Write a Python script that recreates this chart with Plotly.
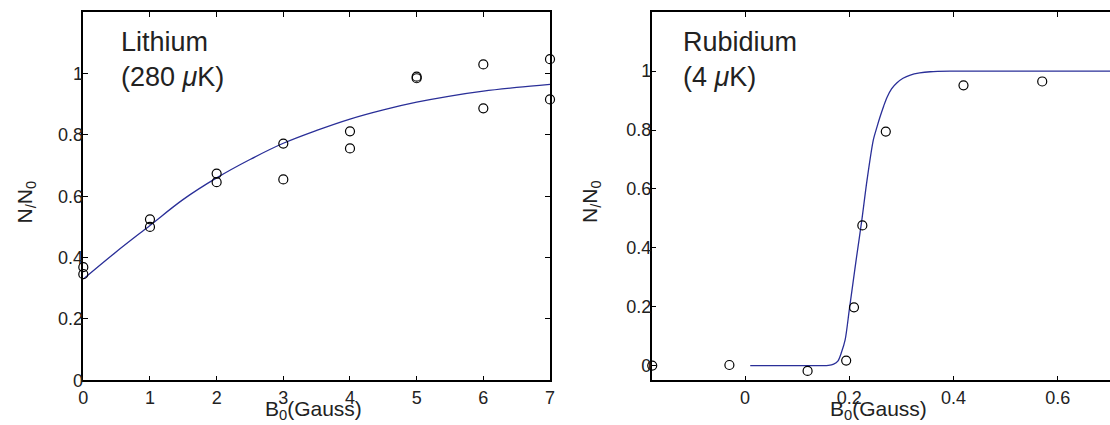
import plotly.graph_objects as go

# ---- Lithium panel data ----
li_b = [0, 0, 1, 1, 2, 2, 3, 3, 4, 4, 5, 5, 6, 6, 7, 7]
li_n = [0.369, 0.346, 0.525, 0.500, 0.674, 0.646, 0.772, 0.655,
        0.812, 0.756, 0.990, 0.985, 1.030, 0.887, 1.047, 0.916]
li_fit_b = [0, 0.5, 1, 1.5, 2, 2.5, 3, 3.5, 4, 4.5, 5, 5.5, 6, 6.5, 7]
li_fit_n = [0.330, 0.420, 0.505, 0.590, 0.660, 0.720, 0.773, 0.815,
            0.852, 0.882, 0.907, 0.927, 0.943, 0.955, 0.965]

# ---- Rubidium panel data ----
rb_b = [-0.178, -0.030, 0.120, 0.194, 0.209, 0.225, 0.270, 0.419, 0.570]
rb_n = [0.000, 0.002, -0.018, 0.017, 0.198, 0.476, 0.795, 0.952, 0.965]
rb_fit_b = [0.01, 0.10, 0.160, 0.170, 0.178, 0.185, 0.192, 0.200, 0.207, 0.214, 0.224,
            0.234, 0.246, 0.253, 0.259, 0.266, 0.272, 0.281, 0.291, 0.303, 0.317,
            0.335, 0.355, 0.393, 0.50, 0.70]
rb_fit_n = [0.0, 0.0, 0.001, 0.005, 0.015, 0.045, 0.087, 0.190, 0.280, 0.370, 0.494,
            0.630, 0.766, 0.810, 0.845, 0.882, 0.910, 0.940, 0.960, 0.976, 0.987,
            0.994, 0.998, 1.0, 1.0, 1.0]

li_xticks = [0, 1, 2, 3, 4, 5, 6, 7]
yticks = [0, 0.2, 0.4, 0.6, 0.8, 1]
ytick_text = ["0", "0.2", "0.4", "0.6", "0.8", "1"]
rb_xticks = [0, 0.2, 0.4, 0.6]

W, H = 1110, 425
FONT = "Liberation Sans, Arial, Helvetica, sans-serif"
CURVE = "#2a2f98"

fig = go.Figure()
fig.add_trace(go.Scatter(x=li_fit_b, y=li_fit_n, mode="lines", line=dict(color=CURVE, width=1.3, shape="spline"),
                         xaxis="x", yaxis="y", showlegend=False))
fig.add_trace(go.Scatter(x=li_b, y=li_n, mode="markers", cliponaxis=False,
                         marker=dict(symbol="circle-open", size=9, color="black", line=dict(width=1.2)),
                         xaxis="x", yaxis="y", showlegend=False))
fig.add_trace(go.Scatter(x=rb_fit_b, y=rb_fit_n, mode="lines", line=dict(color=CURVE, width=1.3, shape="spline", smoothing=0.8),
                         xaxis="x2", yaxis="y2", showlegend=False))
fig.add_trace(go.Scatter(x=rb_b, y=rb_n, mode="markers", cliponaxis=False,
                         marker=dict(symbol="circle-open", size=9, color="black", line=dict(width=1.2)),
                         xaxis="x2", yaxis="y2", showlegend=False))

ydom = [(H - 380.3) / H, (H - 12.3) / H]
axis_common = dict(showline=True, linecolor="black", linewidth=1.5, ticks="inside", ticklen=5,
                   tickcolor="black", tickwidth=1, showgrid=False, zeroline=False,
                   tickfont=dict(family=FONT, size=18, color="#222"), automargin=False)

fig.update_layout(
    width=W, height=H, margin=dict(l=0, r=0, t=0, b=0),
    paper_bgcolor="white", plot_bgcolor="white",
    xaxis=dict(domain=[83.3 / W, 550 / W], range=[0, 7], tickvals=li_xticks, mirror="ticks",
               anchor="y", **axis_common),
    yaxis=dict(domain=ydom, range=[0, 1.2], tickvals=yticks, ticktext=ytick_text, mirror="ticks",
               anchor="x", ticklabelstandoff=-5, **axis_common),
    xaxis2=dict(domain=[651.7 / W, 1.0], range=[-0.179, 0.7], tickvals=rb_xticks,
                ticktext=["0", "0.2", "0.4", "0.6"], mirror="ticks", anchor="y2", **axis_common),
    yaxis2=dict(domain=ydom, range=[-0.05, 1.2], tickvals=yticks, ticktext=ytick_text, mirror=False,
                anchor="x2", ticklabelstandoff=-5, **axis_common),
)

ann_font = dict(family=FONT, size=27, color="#222")
lab_font = dict(family=FONT, size=21, color="#222")
annotations = [
    dict(text="Lithium<br>(280 <i>μ</i>K)", x=119 / W, y=1 - 25 / H, xref="paper", yref="paper",
         xanchor="left", yanchor="top", align="left", showarrow=False, font=ann_font),
    dict(text="Rubidium<br>(4 <i>μ</i>K)", x=680.7 / W, y=1 - 25 / H, xref="paper", yref="paper",
         xanchor="left", yanchor="top", align="left", showarrow=False, font=ann_font),
    dict(text="B<sub>0</sub>(Gauss)", x=313 / W, y=1 - 410 / H, xref="paper", yref="paper",
         xanchor="center", yanchor="middle", showarrow=False, font=lab_font),
    dict(text="B<sub>0</sub>(Gauss)", x=878 / W, y=1 - 410 / H, xref="paper", yref="paper",
         xanchor="center", yanchor="middle", showarrow=False, font=lab_font),
    dict(text="N<sub>/</sub>N<sub>0</sub>", x=25.5 / W, y=1 - 202 / H, xref="paper", yref="paper",
         xanchor="center", yanchor="middle", textangle=-90, showarrow=False, font=lab_font),
    dict(text="N<sub>/</sub>N<sub>0</sub>", x=(560 + 31) / W, y=1 - 202 / H, xref="paper", yref="paper",
         xanchor="center", yanchor="middle", textangle=-90, showarrow=False, font=lab_font),
]
fig.update_layout(annotations=annotations)

fig.write_html("out.html", config={"displayModeBar": False},
               post_script="document.body.style.margin='0px';document.body.style.overflow='hidden';")
